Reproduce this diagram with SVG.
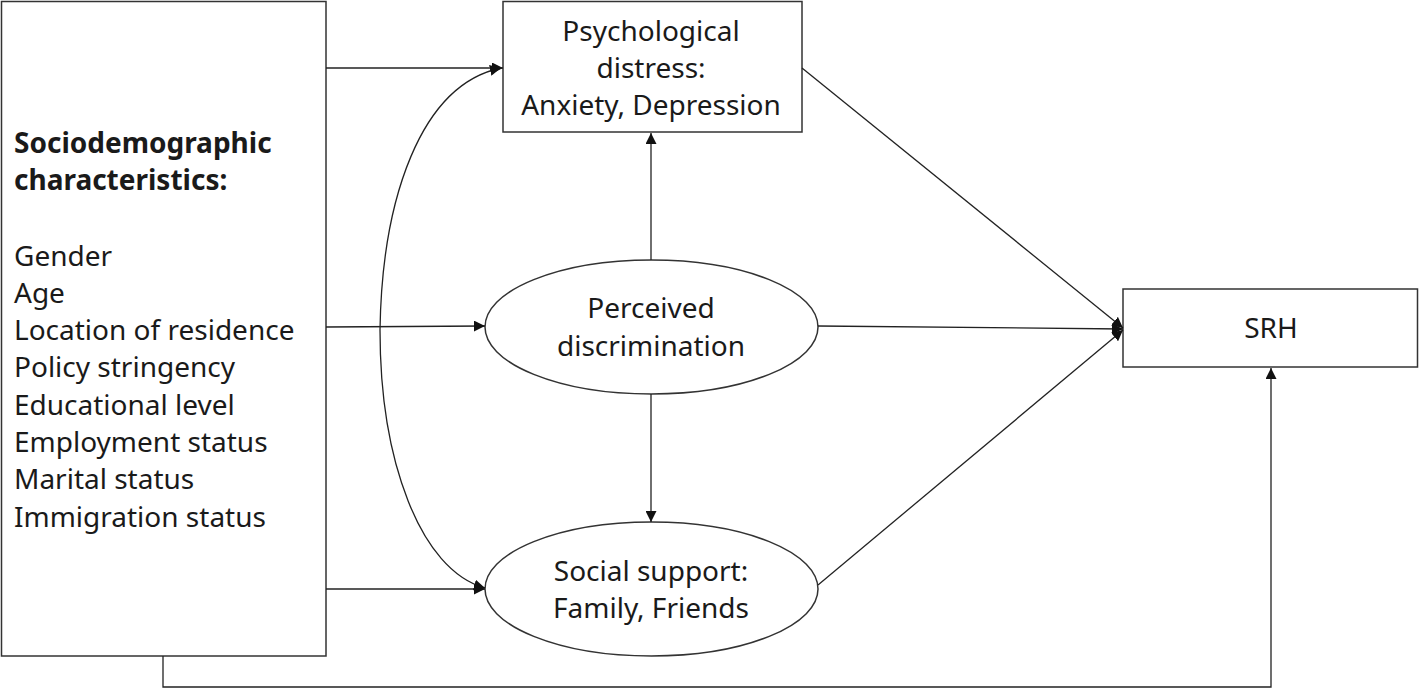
<svg xmlns="http://www.w3.org/2000/svg" width="1419" height="690" viewBox="0 0 1419 690">
<defs>
<style>
.box{fill:#fff;stroke:#333;stroke-width:1.5}
.ln{fill:none;stroke:#222;stroke-width:1.3}
text{font-family:"Noto Sans","Open Sans",sans-serif;font-size:28px;fill:#1a1a1a}
.c{text-anchor:middle}
.b{font-weight:bold}
</style>
<marker id="ah" viewBox="0 0 10 10" refX="10" refY="5" markerWidth="11" markerHeight="11" markerUnits="userSpaceOnUse" orient="auto-start-reverse">
<path d="M0,0 L10,5 L0,10 z" fill="#111"/>
</marker>
</defs>
<rect width="1419" height="690" fill="#fff"/>
<g id="socio">
<rect class="box" x="1.5" y="1.5" width="324.5" height="654.5"/>
<text class="b" x="14" y="153">Sociodemographic</text>
<text class="b" x="14" y="190">characteristics:</text>
<text x="14" y="266">Gender</text>
<text x="14" y="303">Age</text>
<text x="14" y="340">Location of residence</text>
<text x="14" y="377">Policy stringency</text>
<text x="14" y="415">Educational level</text>
<text x="14" y="452">Employment status</text>
<text x="14" y="489">Marital status</text>
<text x="14" y="527">Immigration status</text>
</g>
<g id="psych">
<rect class="box" x="503" y="1.5" width="299" height="130.5"/>
<text class="c" x="651" y="41">Psychological</text>
<text class="c" x="651" y="78">distress:</text>
<text class="c" x="651" y="115">Anxiety, Depression</text>
</g>
<g id="perceived">
<ellipse class="box" cx="651.5" cy="327" rx="166.5" ry="67"/>
<text class="c" x="651" y="318">Perceived</text>
<text class="c" x="651" y="356">discrimination</text>
</g>
<g id="social">
<ellipse class="box" cx="651.5" cy="589" rx="166.5" ry="67"/>
<text class="c" x="651" y="581">Social support:</text>
<text class="c" x="651" y="618">Family, Friends</text>
</g>
<g id="srh">
<rect class="box" x="1123" y="289" width="294.5" height="78"/>
<text class="c" x="1271" y="338">SRH</text>
</g>
<g id="connectors">
<line class="ln" x1="326" y1="68" x2="503" y2="68" marker-end="url(#ah)"/>
<line class="ln" x1="326" y1="327" x2="485" y2="326" marker-end="url(#ah)"/>
<line class="ln" x1="326" y1="589" x2="485" y2="589" marker-end="url(#ah)"/>
<path class="ln" d="M501,68 C420,85 382,200 380,330 C380,460 420,570 485,588" marker-start="url(#ah)" marker-end="url(#ah)"/>
<line class="ln" x1="651" y1="260" x2="651" y2="133" marker-end="url(#ah)"/>
<line class="ln" x1="651" y1="394" x2="651" y2="522" marker-end="url(#ah)"/>
<line class="ln" x1="802" y1="68" x2="1123" y2="328" marker-end="url(#ah)"/>
<line class="ln" x1="818" y1="326" x2="1123" y2="329" marker-end="url(#ah)"/>
<line class="ln" x1="818" y1="585" x2="1123" y2="330" marker-end="url(#ah)"/>
<polyline class="ln" points="163,656 163,687 1271,687 1271,368" marker-end="url(#ah)"/>
</g>
</svg>
